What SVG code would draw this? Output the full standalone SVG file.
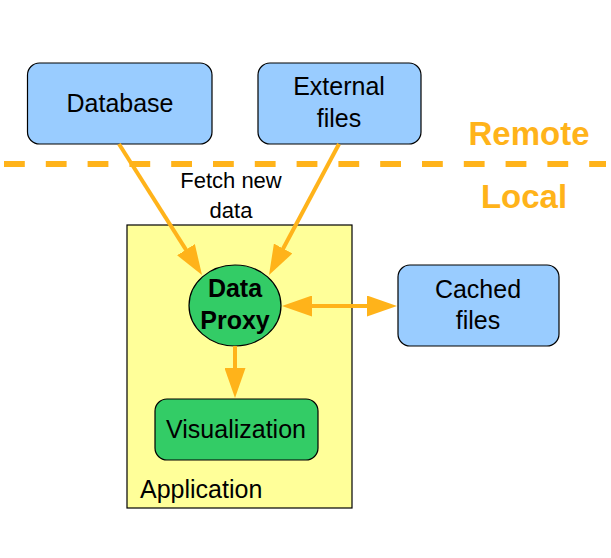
<svg xmlns="http://www.w3.org/2000/svg" width="611" height="558" viewBox="0 0 611 558">
<style>
text{font-family:"Liberation Sans",Arial,sans-serif;fill:#000}
.lbl{font-size:25px;text-anchor:middle}
.blue{fill:#99ccff;stroke:#000;stroke-width:1.2}
.green{fill:#33cc66;stroke:#000;stroke-width:1.2}
.conn{stroke:#ffb31a;stroke-width:4;fill:none}
.zone{font-size:33px;font-weight:bold;fill:#ffb31a;text-anchor:middle}
</style>
<defs>
<marker id="ah" viewBox="0 0 30 21" refX="18" refY="10.5" markerWidth="30" markerHeight="21" markerUnits="userSpaceOnUse" orient="auto-start-reverse">
<path d="M0,0 L30,10.5 L0,21 Z" fill="#ffb31a"/>
</marker>
</defs>
<rect width="611" height="558" fill="#fff"/>
<g id="boundary">
<line x1="4" y1="164" x2="606" y2="164" stroke="#ffb31a" stroke-width="6" stroke-dasharray="20.8 21"/>
<text class="zone" x="529" y="145">Remote</text>
<text class="zone" x="524" y="208">Local</text>
</g>
<g id="application">
<rect x="127" y="225" width="225" height="283" fill="#ffff99" stroke="#000" stroke-width="1.2"/>
<text x="140" y="498" font-size="25">Application</text>
</g>
<g id="database">
<rect class="blue" x="27.5" y="63" width="184.5" height="81" rx="12"/>
<text class="lbl" x="120" y="112">Database</text>
</g>
<g id="external-files">
<rect class="blue" x="258" y="63" width="163" height="81" rx="12"/>
<text class="lbl" x="339" y="95">External</text>
<text class="lbl" x="339" y="127">files</text>
</g>
<g id="cached-files">
<rect class="blue" x="398" y="265" width="161" height="81" rx="12"/>
<text class="lbl" x="478" y="298">Cached</text>
<text class="lbl" x="478" y="329">files</text>
</g>
<g id="data-proxy">
<ellipse class="green" cx="235" cy="305.5" rx="46" ry="40.5"/>
<text class="lbl" x="235" y="297" font-size="24" font-weight="bold">Data</text>
<text class="lbl" x="235" y="329" font-size="24" font-weight="bold">Proxy</text>
</g>
<g id="visualization">
<rect class="green" x="155" y="399" width="163" height="61" rx="12"/>
<text class="lbl" x="236" y="438">Visualization</text>
</g>
<g id="connectors">
<line class="conn" x1="119" y1="144" x2="195.6" y2="264.9" marker-end="url(#ah)"/>
<line class="conn" x1="339" y1="144" x2="274.7" y2="264.4" marker-end="url(#ah)"/>
<line class="conn" x1="235" y1="346" x2="235" y2="386" marker-end="url(#ah)"/>
<line class="conn" x1="294" y1="306" x2="385" y2="306" marker-start="url(#ah)" marker-end="url(#ah)"/>
<text x="231" y="188" font-size="22" text-anchor="middle">Fetch new</text>
<text x="231" y="218" font-size="22" text-anchor="middle">data</text>
</g>
</svg>
